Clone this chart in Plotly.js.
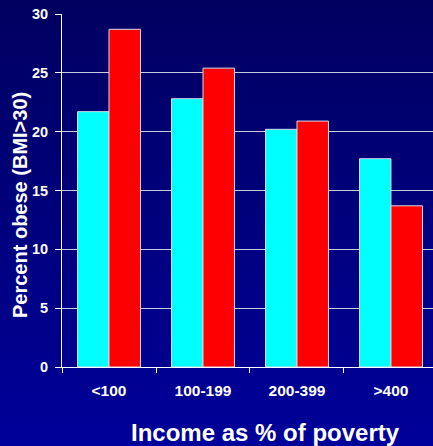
<!DOCTYPE html>
<html>
<head>
<meta charset="utf-8">
<script src="https://cdn.plot.ly/plotly-3.0.1.min.js"></script>
<style>
html, body { margin:0; padding:0; }
body { width:433px; height:446px; background: linear-gradient(to bottom, #000060 0%, #00009a 100%); overflow:hidden; }
#chart { width:433px; height:446px; }
</style>
</head>
<body>
<div id="chart"></div>
<script>
const categories = ['<100', '100-199', '200-399', '>400'];
const seriesA = [21.7, 22.8, 20.2, 17.7];
const seriesB = [28.7, 25.4, 20.9, 13.7];
const yTicks = [0, 5, 10, 15, 20, 25, 30];

const FONT = 'Liberation Sans, Arial, sans-serif';
const traces = [
  { type:'bar', x:categories, y:seriesA, marker:{color:'#00ffff', line:{color:'#d8d8e8', width:1}}, hoverinfo:'none' },
  { type:'bar', x:categories, y:seriesB, marker:{color:'#ff0000', line:{color:'#d8d8e8', width:1}}, hoverinfo:'none' }
];
const layout = {
  width:433, height:446,
  margin:{l:62, r:0, t:14, b:79},
  paper_bgcolor:'rgba(0,0,0,0)', plot_bgcolor:'rgba(0,0,0,0)',
  showlegend:false,
  barmode:'group', bargap:0.33, bargroupgap:0,
  font:{family:FONT, color:'#ffffff'},
  xaxis:{
    type:'category', range:[-0.5, 3.447], tickson:'boundaries',
    ticks:'outside', ticklen:5, tickcolor:'#ffffff', tickwidth:1,
    showline:true, linecolor:'#ffffff', linewidth:1,
    showgrid:false, zeroline:false,
    tickfont:{family:FONT, size:15.5, color:'#ffffff', weight:'bold'},
    ticklabelstandoff:9,
    fixedrange:true
  },
  yaxis:{
    range:[0,30], tickvals:yTicks, ticktext:yTicks.map(String),
    ticks:'outside', ticklen:6, tickcolor:'#ffffff', tickwidth:1,
    showline:true, linecolor:'#ffffff', linewidth:1,
    showgrid:true, gridcolor:'#c8c8e0', gridwidth:1.2,
    zeroline:false,
    tickfont:{family:FONT, size:14.5, color:'#ffffff', weight:'bold'},
    ticklabelstandoff:4,
    fixedrange:true
  },
  annotations:[
    { text:'Income as % of poverty', xref:'paper', yref:'paper', x:(265-62)/371, y:-(432-367)/353,
      xanchor:'center', yanchor:'middle', showarrow:false,
      font:{family:FONT, size:24, color:'#ffffff', weight:'bold'} },
    { text:'Percent obese (BMI>30)', xref:'paper', yref:'paper', x:-(62-20)/371, y:(367-205)/353,
      xanchor:'center', yanchor:'middle', textangle:-90, showarrow:false,
      font:{family:FONT, size:20, color:'#ffffff', weight:'bold'} }
  ]
};
Plotly.newPlot('chart', traces, layout, {staticPlot:true, displayModeBar:false});
</script>
</body>
</html>
